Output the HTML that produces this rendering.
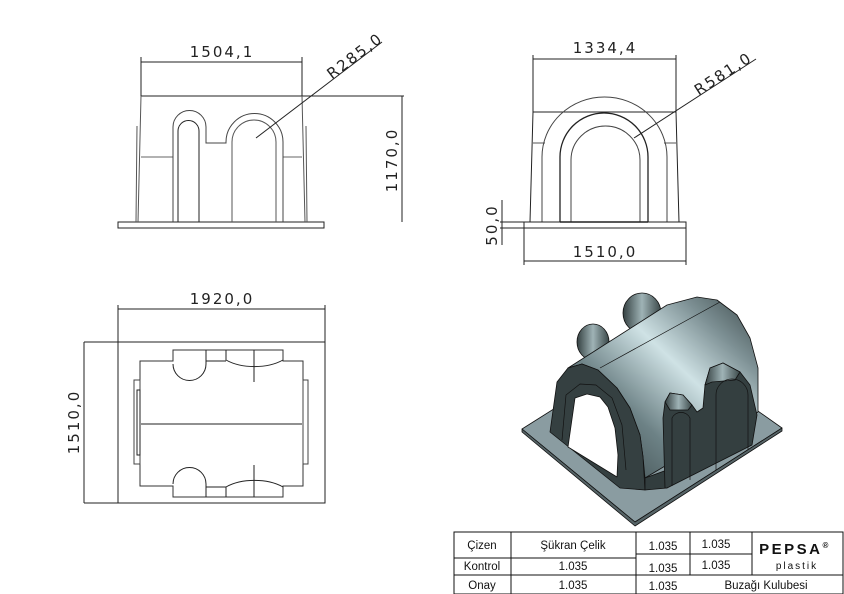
<!DOCTYPE html>
<html><head><meta charset="utf-8"><style>
html,body{margin:0;padding:0;background:#fff;}
svg{display:block;}
.d{font-family:"DejaVu Sans","Liberation Sans",sans-serif;font-size:15px;fill:#222;font-weight:normal;letter-spacing:2px}
.t{font-family:"Liberation Sans","DejaVu Sans",sans-serif;font-size:11.5px;fill:#111}
</style></head><body>
<svg width="844" height="594" viewBox="0 0 844 594" xmlns="http://www.w3.org/2000/svg">
<defs>
<linearGradient id="bar" x1="0" y1="1" x2="1" y2="0">
<stop offset="0" stop-color="#2f3a3b"/><stop offset="0.35" stop-color="#6d8286"/><stop offset="0.6" stop-color="#cfe2e5"/><stop offset="0.8" stop-color="#7d9094"/><stop offset="1" stop-color="#3a4748"/>
</linearGradient>
<linearGradient id="bmp" x1="0" y1="0" x2="1" y2="0">
<stop offset="0" stop-color="#344041"/><stop offset="0.5" stop-color="#9fb3b6"/><stop offset="1" stop-color="#3b4849"/>
</linearGradient>
</defs>
<g fill="none" stroke="#222" stroke-width="1">
<line x1="141" y1="62" x2="302" y2="62"/>
<line x1="141" y1="57" x2="141" y2="96"/><line x1="302" y1="57" x2="302" y2="96"/>
<line x1="141" y1="96" x2="404" y2="96"/>
<line x1="402" y1="96" x2="402" y2="222"/>
<rect x="118" y="222" width="206" height="6"/>
<path d="M141 96 L138 222 M302 96 L305 222" stroke="#555"/>
<path d="M137 126 L136 222 M306 126 L307 222" stroke="#555"/>
<line x1="141" y1="157" x2="173" y2="157" stroke="#666"/><line x1="283" y1="157" x2="302" y2="157" stroke="#666"/>
<path d="M173 222 V127 A16.5 16.5 0 0 1 206 127 V143 H226 V142 A28.5 28.5 0 0 1 283 142 V222" stroke="#444"/>
<path d="M178 222 V131 A10.5 10.5 0 0 1 199 131 V222"/>
<path d="M232 222 V142 A22 22 0 0 1 276 142 V222" stroke="#555"/>
<line x1="256" y1="138" x2="382" y2="42"/>
<line x1="533" y1="59" x2="676" y2="59"/>
<line x1="533" y1="55" x2="533" y2="112"/><line x1="676" y1="55" x2="676" y2="112"/>
<line x1="533" y1="112" x2="676" y2="112"/>
<path d="M533 112 L530 222 M676 112 L679 222"/>
<path d="M533 143 H545 M664 143 H676" stroke="#555"/>
<path d="M542 222 V157 A62.5 60 0 0 1 667 157 V222" stroke="#444"/>
<path d="M560 222 V157 A44 44 0 0 1 648 157 V222" stroke-width="1.3"/>
<path d="M571 222 V160 A34.5 34 0 0 1 640 160 V222" stroke="#444"/>
<rect x="524" y="222" width="162" height="6"/>
<line x1="560" y1="222" x2="648" y2="222" stroke-width="1.5"/>
<line x1="500" y1="222" x2="524" y2="222"/><line x1="500" y1="228" x2="524" y2="228"/>
<line x1="502" y1="200" x2="502" y2="245"/>
<line x1="524" y1="228" x2="524" y2="265"/><line x1="686" y1="228" x2="686" y2="265"/>
<line x1="524" y1="261" x2="686" y2="261"/>
<line x1="634" y1="138" x2="756" y2="59"/>
<line x1="118" y1="309" x2="325" y2="309"/>
<line x1="118" y1="305" x2="118" y2="342"/><line x1="325" y1="305" x2="325" y2="342"/>
<rect x="118" y="342" width="207" height="161"/>
<line x1="84" y1="342" x2="118" y2="342"/><line x1="84" y1="503" x2="118" y2="503"/>
<line x1="84" y1="342" x2="84" y2="503"/>
<path d="M140 361 H173 V350 H283 V361 H303 V486 H283 V497 H173 V486 H140 Z" stroke="#333"/>
<line x1="141" y1="424" x2="302" y2="424"/>
<path d="M173 364 A16.5 16.5 0 0 0 206 364 V350 M206 361 H226 M226 350 V360 A40 22 0 0 0 283 360" />
<line x1="254" y1="350" x2="254" y2="382"/>
<path d="M173 484 A16.5 16.5 0 0 1 206 484 V497 M206 487 H226 M226 497 V487 A40 22 0 0 1 283 487"/>
<line x1="254" y1="465" x2="254" y2="497"/>
<rect x="134" y="380" width="6" height="84" stroke="#444"/>
<rect x="137" y="390" width="3" height="65"/>
<rect x="303" y="380" width="5" height="84" stroke="#444"/>
</g>
<g class="d">
<text x="222" y="57" text-anchor="middle">1504,1</text>
<text transform="translate(358,60) rotate(-37)" text-anchor="middle">R285,0</text>
<text transform="translate(397,160) rotate(-90)" text-anchor="middle">1170,0</text>
<text x="605" y="53" text-anchor="middle">1334,4</text>
<text transform="translate(726,78) rotate(-33)" text-anchor="middle">R581,0</text>
<text transform="translate(497,225) rotate(-90)" text-anchor="middle">50,0</text>
<text x="605" y="257" text-anchor="middle">1510,0</text>
<text x="222" y="304" text-anchor="middle">1920,0</text>
<text transform="translate(79,422) rotate(-90)" text-anchor="middle">1510,0</text>
</g>
<g stroke="#111" stroke-width="0.8" stroke-linejoin="round">
<polygon points="522,429 660,342 782,428 635,522" fill="#8a9ca1"/>
<polygon points="522,429 635,522 782,428 782,431 635,526 522,432" fill="#566467"/>
<ellipse cx="593" cy="342" rx="16" ry="18" fill="url(#bmp)"/>
<ellipse cx="642" cy="313" rx="19" ry="20" fill="url(#bmp)"/>
<polygon points="568,368 667,305 697,297 717,300 737,315 750,338 758,368 758,412 700,445 645,478 643,457 640,435 630,408 617,388 598,370 582,364" fill="url(#bar)"/>
<line x1="600" y1="368" x2="720" y2="302" stroke-width="0.7"/>
<polygon points="550,432 557,382 568,368 582,364 598,370 617,388 630,408 640,435 643,457 645,490 620,488" fill="#354041"/>
<polygon points="568,447 575,398 587,394 600,397 608,407 615,428 618,455 617,477" fill="#fff"/>
<path d="M562 440 L566 395 L580 384 L596 385 L612 398 L622 425 L626 470" fill="none" stroke-width="0.7"/>
<polygon points="645,490 667,488 667,470 645,478" fill="#323d3e"/>
<polygon points="667,488 752,445 757,415 750,385 740,372 723,363 710,368 705,385 703,408 697,412 692,405 683,395 670,393 665,402 663,418 665,488" fill="#343f40"/>
<polygon points="665,402 670,393 683,395 692,405 688,410 670,410" fill="url(#bmp)"/>
<polygon points="705,385 710,368 723,363 740,372 735,380 712,382" fill="url(#bmp)"/>
<path d="M672 486 V418 A10 10 0 0 1 690 418 V480 M716 470 V395 A16 16 0 0 1 748 395 V450" fill="none" stroke-width="0.7"/>
</g>
<g stroke="#111" stroke-width="1" fill="none">
<rect x="454" y="532" width="389" height="62"/>
<line x1="454" y1="558" x2="636" y2="558"/>
<line x1="636" y1="554" x2="752" y2="554"/>
<line x1="454" y1="575" x2="843" y2="575"/>
<line x1="511" y1="532" x2="511" y2="594"/>
<line x1="636" y1="532" x2="636" y2="594"/>
<line x1="690" y1="532" x2="690" y2="575"/>
<line x1="752" y1="532" x2="752" y2="575"/>
</g>
<g class="t" text-anchor="middle">
<text x="482" y="549">Çizen</text><text x="573" y="549">Şükran Çelik</text>
<text x="663" y="550">1.035</text><text x="716" y="548">1.035</text>
<text x="482" y="570">Kontrol</text><text x="573" y="570">1.035</text>
<text x="663" y="572">1.035</text><text x="716" y="569">1.035</text>
<text x="482" y="589">Onay</text><text x="573" y="589">1.035</text>
<text x="663" y="590">1.035</text><text x="766" y="589">Buzağı Kulubesi</text>
<text x="795" y="554" style="font-size:15px;font-weight:bold;letter-spacing:2.5px">PEPSA<tspan style="font-size:8px" dy="-6">®</tspan></text>
<text x="797" y="569" style="font-size:10px;letter-spacing:2px">plastik</text>
</g>
</svg>
</body></html>
